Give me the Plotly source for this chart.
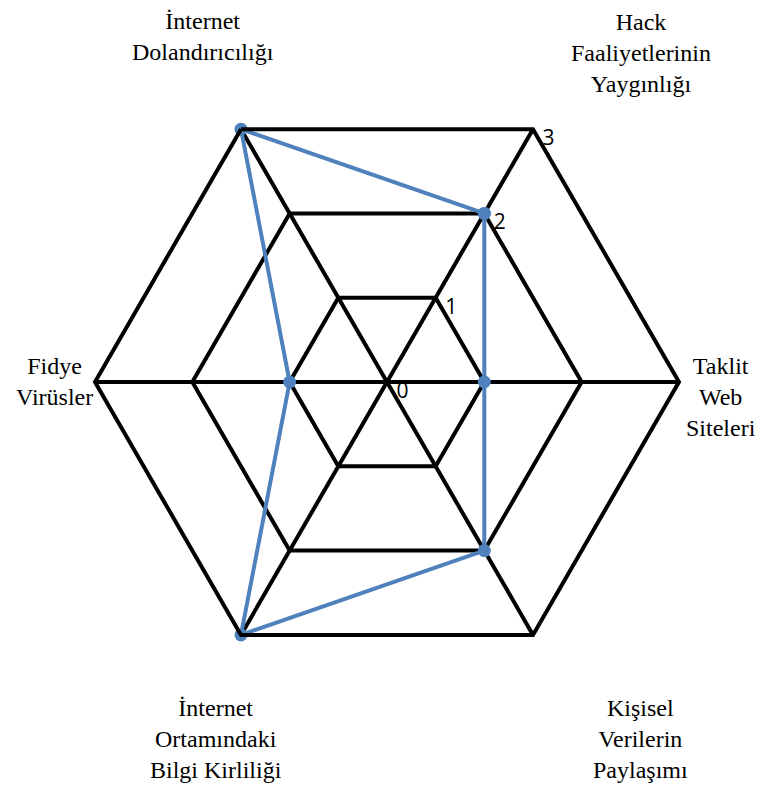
import plotly.graph_objects as go

categories = [
    "Hack<br>Faaliyetlerinin<br>Yaygınlığı",
    "Taklit<br>Web<br>Siteleri",
    "Kişisel<br>Verilerin<br>Paylaşımı",
    "İnternet<br>Ortamındaki<br>Bilgi Kirliliği",
    "Fidye<br>Virüsler",
    "İnternet<br>Dolandırıcılığı",
]
values = [2, 1, 2, 3, 1, 3]
radial_ticks = [0, 1, 2, 3]

# label placement (paper coords) for each category, centred text like the original
label_pos = [(0.8296, 0.9433), (0.9345, 0.5101), (0.8296, 0.0790),
             (0.2726, 0.0790), (0.0610, 0.5302), (0.2556, 0.9647)]

BLUE = "#4F81BD"

fig = go.Figure(go.Scatterpolar(
    r=values + values[:1],
    theta=categories + categories[:1],
    mode="lines+markers",
    line=dict(color=BLUE, width=4),
    marker=dict(color=BLUE, size=13),
    showlegend=False,
))

for text, (x, y) in zip(categories, label_pos):
    fig.add_annotation(
        text=text, x=x, y=y, xref="paper", yref="paper",
        xanchor="center", yanchor="middle", align="center",
        showarrow=False,
        font=dict(family="Liberation Serif", size=24, color="black"),
    )

fig.update_layout(
    width=763, height=794,
    margin=dict(l=0, r=0, t=0, b=0),
    paper_bgcolor="white",
    plot_bgcolor="white",
    polar=dict(
        domain=dict(x=[0.1140, 0.8794], y=[0.1612, 0.8967]),
        bgcolor="white",
        gridshape="linear",
        angularaxis=dict(
            rotation=60,
            direction="clockwise",
            showline=True,
            linecolor="black",
            linewidth=4,
            gridcolor="black",
            gridwidth=4,
            ticks="",
            showticklabels=False,
        ),
        radialaxis=dict(
            range=[0, 3],
            angle=60,
            tickvals=radial_ticks,
            showline=False,
            gridcolor="black",
            gridwidth=4,
            ticks="",
            side="clockwise",
            tickangle=60,
            tickfont=dict(family="Open Sans", size=21, color="black"),
        ),
    ),
)

fig.write_html("out.html")
